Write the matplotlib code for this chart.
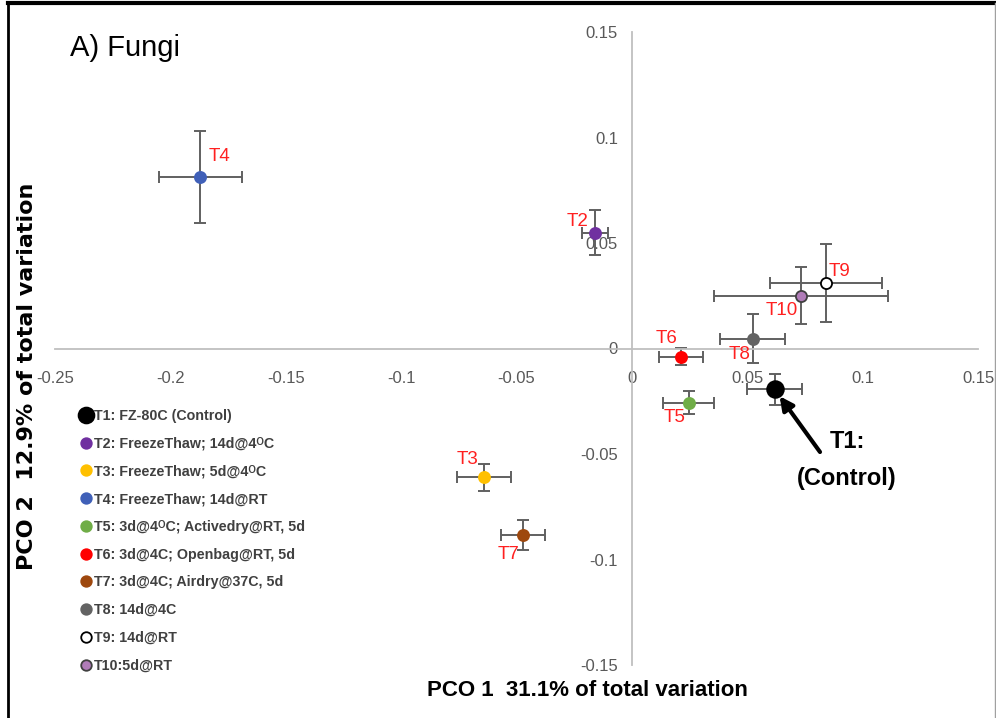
import matplotlib
matplotlib.use("Agg")
import matplotlib.pyplot as plt
from matplotlib.lines import Line2D

plt.rcParams["font.family"] = ["Liberation Sans", "DejaVu Sans"]

# ------------------------------------------------------------------
# DATI
# ------------------------------------------------------------------
treatments = ["T1", "T2", "T3", "T4", "T5", "T6", "T7", "T8", "T9", "T10"]
pco1 = [0.0619, -0.0160, -0.0641, -0.1870, 0.0247, 0.0212, -0.0472, 0.0524, 0.0840, 0.0732]
pco2 = [-0.0194, 0.0549, -0.0610, 0.0814, -0.0256, -0.0038, -0.0885, 0.0047, 0.0312, 0.0251]
err1 = [0.0119, 0.0056, 0.0117, 0.0180, 0.0110, 0.0095, 0.0095, 0.0141, 0.0242, 0.0377]
err2 = [0.0073, 0.0106, 0.0064, 0.0218, 0.0054, 0.0040, 0.0071, 0.0116, 0.0185, 0.0133]
legend_labels = [
    "T1: FZ-80C (Control)",
    "T2: FreezeThaw; 14d@4\u1d3cC",
    "T3: FreezeThaw; 5d@4\u1d3cC",
    "T4: FreezeThaw; 14d@RT",
    "T5: 3d@4\u1d3cC; Activedry@RT, 5d",
    "T6: 3d@4C; Openbag@RT, 5d",
    "T7: 3d@4C; Airdry@37C, 5d",
    "T8: 14d@4C",
    "T9: 14d@RT",
    "T10:5d@RT",
]
xticks = [-0.25, -0.2, -0.15, -0.1, -0.05, 0, 0.05, 0.1, 0.15]
yticks = [-0.15, -0.1, -0.05, 0, 0.05, 0.1, 0.15]

# ------------------------------------------------------------------
# STILE
# ------------------------------------------------------------------
face = ["#000000", "#7030A0", "#FFC000", "#4060B8", "#70AD47",
        "#FF0000", "#9E480E", "#636363", "#FFFFFF", "#B07CB8"]
edge = ["#000000", "#7030A0", "#FFC000", "#4060B8", "#70AD47",
        "#FF0000", "#9E480E", "#636363", "#000000", "#404040"]
msize = [12, 8, 8, 8, 8, 8, 8, 8, 8, 8]
# offset etichette rosse (pixel)
offsets = [None, (-17, 11), (-16, 18), (19, 20), (-14, -15), (-14, 18),
           (-14, -19), (-13, -16), (14, 11), (-19, -15)]

W, H = 996, 718
fig = plt.figure(figsize=(W / 100, H / 100), dpi=100)
ax = fig.add_axes([55 / W, 1 - 665 / H, 923 / W, 633 / H])
ax.set_xlim(-0.25, 0.15)
ax.set_ylim(-0.15, 0.15)

for s in ["top", "right"]:
    ax.spines[s].set_visible(False)
for s in ["left", "bottom"]:
    ax.spines[s].set_position("zero")
    ax.spines[s].set_color("#BFBFBF")
    ax.spines[s].set_linewidth(1.3)
ax.set_xticks(xticks)
ax.set_yticks(yticks)
ax.set_xticklabels([f"{v:g}" for v in xticks])
ax.set_yticklabels([f"{v:g}" for v in yticks])
ax.tick_params(axis="x", length=0, pad=16, labelsize=12, labelcolor="#595959")
ax.tick_params(axis="y", length=0, pad=10, labelsize=12, labelcolor="#595959")

for i, t in enumerate(treatments):
    ax.errorbar(pco1[i], pco2[i], xerr=err1[i], yerr=err2[i], fmt="none",
                ecolor="#606060", elinewidth=1.4, capsize=4, capthick=1.4, zorder=2)
    ax.plot(pco1[i], pco2[i], "o", ms=msize[i], mfc=face[i], mec=edge[i],
            mew=1.3, zorder=3)
    if offsets[i] is not None:
        ax.annotate(t, (pco1[i], pco2[i]), xytext=offsets[i], textcoords="offset pixels",
                    ha="center", va="center", color="#FF2020", fontsize=13.5)

# freccia verso il controllo
ax.annotate("", xy=(pco1[0], pco2[0]), xytext=(820, H - 452), textcoords="figure pixels",
            arrowprops=dict(arrowstyle="-|>,head_length=0.8,head_width=0.4",
                            color="black", lw=3, shrinkA=0, shrinkB=6))
fig.text(847 / W, 1 - 442 / H, "T1:", ha="center", va="center",
         fontsize=17, fontweight="bold")
fig.text(847 / W, 1 - 478 / H, "(Control)", ha="center", va="center",
         fontsize=17, fontweight="bold")

# titolo e assi
fig.text(70 / W, 1 - 48 / H, "A) Fungi", ha="left", va="center", fontsize=21)
fig.text(587 / W, 1 - 690 / H, "PCO 1  31.1% of total variation", ha="center",
         va="center", fontsize=16, fontweight="bold")
fig.text(27 / W, 1 - 376 / H, "PCO 2  12.9% of total variation", ha="center",
         va="center", rotation=90, fontsize=16, fontweight="bold",
         family="DejaVu Sans")

# legenda
handles = [Line2D([], [], ls="none", marker="o", ms=msize[i] * 0.95,
                  mfc=face[i], mec=edge[i], mew=1.3) for i in range(len(treatments))]
fig.legend(handles, legend_labels, loc="upper left",
           bbox_to_anchor=(81 / W, 1 - 409 / H), frameon=False,
           prop=dict(size=10.3, weight="bold"), labelcolor="#404040",
           handlelength=0.7, handletextpad=0.2, labelspacing=0.96,
           borderpad=0, borderaxespad=0)

# cornice
fig.add_artist(Line2D([8 / W, 1], [1 - 3 / H, 1 - 3 / H], color="black", lw=3,
                      transform=fig.transFigure))
fig.add_artist(Line2D([8 / W, 8 / W], [0, 1 - 3 / H], color="black", lw=2,
                      transform=fig.transFigure))
fig.add_artist(Line2D([995 / W, 995 / W], [0, 1 - 3 / H], color="#A0A0A0", lw=1,
                      transform=fig.transFigure))

plt.savefig("out.png", dpi=100)
